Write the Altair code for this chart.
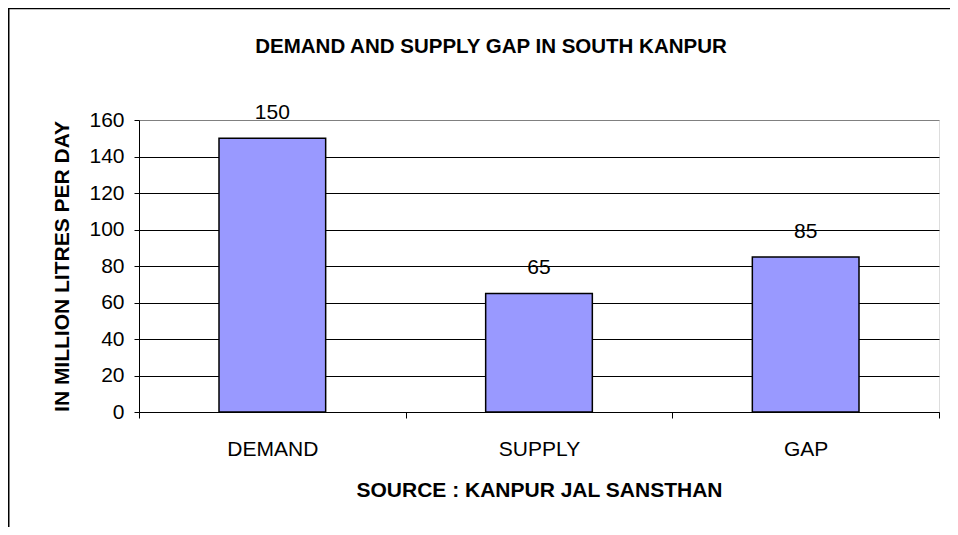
import altair as alt
import pandas as pd

categories = ["DEMAND", "SUPPLY", "GAP"]
values = [150, 65, 85]
y_ticks = [0, 20, 40, 60, 80, 100, 120, 140, 160]

df = pd.DataFrame({"category": categories, "value": values})

FONT = "Liberation Sans"

x_enc = alt.X(
    "category:N",
    sort=categories,
    scale=alt.Scale(paddingInner=0, paddingOuter=0),
    axis=alt.Axis(
        title="SOURCE : KANPUR JAL SANSTHAN",
        labelAngle=0,
        tickBand="extent",
        tickSize=6,
        tickColor="black",
        domainColor="black",
        labelColor="black",
        labelFont=FONT,
        labelFontSize=21,
        labelBaseline="alphabetic",
        labelPadding=37,
        titleFont=FONT,
        titleFontSize=21,
        titleFontWeight="bold",
        titleColor="black",
        titleBaseline="alphabetic",
        titleY=84,
        grid=False,
    ),
)

y_enc = alt.Y(
    "value:Q",
    scale=alt.Scale(domain=[0, 160], nice=False),
    axis=alt.Axis(
        title="IN MILLION LITRES PER DAY",
        values=y_ticks,
        labelOverlap=False,
        grid=True,
        gridColor=alt.condition("datum.value == 160", alt.value("#808080"), alt.value("black")),
        gridWidth=1,
        tickSize=5,
        tickColor="black",
        domainColor="black",
        labelColor="black",
        labelFont=FONT,
        labelFontSize=21,
        labelPadding=10,
        titleFont=FONT,
        titleFontSize=21,
        titleFontWeight="bold",
        titleColor="black",
        titleAngle=270,
        titleBaseline="alphabetic",
        titleAlign="center",
        titleX=-71,
        titleY=146,
    ),
)

base = alt.Chart(df)

bars = base.mark_bar(
    width=alt.RelativeBandSize(0.4),
    color="#9999FF",
    stroke="black",
    strokeWidth=1.5,
).encode(x=x_enc, y=y_enc)

labels = base.mark_text(
    baseline="alphabetic",
    dy=-19,
    font=FONT,
    fontSize=21,
    color="black",
).encode(x=x_enc, y=y_enc, text="value:Q")

frame = alt.Chart(pd.DataFrame({"a": [0]})).mark_rect(
    fill="transparent", stroke="black", strokeWidth=1.6
).encode(
    x=alt.value(-130.3), x2=alt.value(1200),
    y=alt.value(-111.5), y2=alt.value(1200),
)

chart = alt.layer(bars, labels, frame).properties(
    width=800,
    height=292,
    padding={"left": 131, "top": 112, "right": 11, "bottom": 115},
    autosize=alt.AutoSizeParams(type="none"),
    title=alt.TitleParams(
        text="DEMAND AND SUPPLY GAP IN SOUTH KANPUR",
        font=FONT,
        fontSize=20.5,
        fontWeight="bold",
        color="black",
        anchor="middle",
        dx=-48,
        dy=65.6,
        baseline="alphabetic",
        offset=0,
    ),
).configure_view(
    fill="#C0C0C0", stroke="#808080", strokeWidth=1
).configure(background="white")

chart.save("out.html", embed_options={"renderer": "svg", "actions": False})
